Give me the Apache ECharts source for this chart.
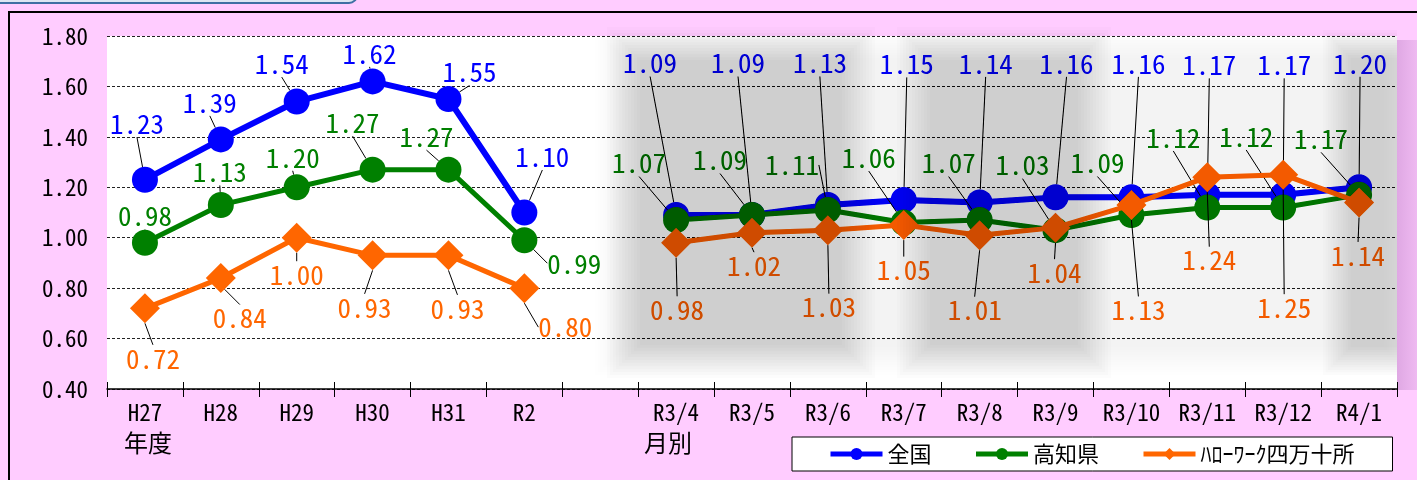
<!DOCTYPE html>
<html>
<head>
<meta charset="utf-8">
<script src="https://cdn.jsdelivr.net/npm/echarts@6/dist/echarts.min.js"></script>
<style>
html, body { margin: 0; padding: 0; background: #FFCCFF; }
#container { width: 1417px; height: 480px; }
</style>
</head>
<body>
<div id="container"></div>
<script>
// 有効求人倍率 データ
var categories = ['H27', 'H28', 'H29', 'H30', 'H31', 'R2', '', 'R3/4', 'R3/5', 'R3/6', 'R3/7', 'R3/8', 'R3/9', 'R3/10', 'R3/11', 'R3/12', 'R4/1'];
var zenkoku = [1.23, 1.39, 1.54, 1.62, 1.55, 1.10, null, 1.09, 1.09, 1.13, 1.15, 1.14, 1.16, 1.16, 1.17, 1.17, 1.20];
var kochi = [0.98, 1.13, 1.20, 1.27, 1.27, 0.99, null, 1.07, 1.09, 1.11, 1.06, 1.07, 1.03, 1.09, 1.12, 1.12, 1.17];
var shimanto = [0.72, 0.84, 1.00, 0.93, 0.93, 0.80, null, 0.98, 1.02, 1.03, 1.05, 1.01, 1.04, 1.13, 1.24, 1.25, 1.14];
var seriesNames = ['全国', '高知県', 'ﾊﾛｰﾜｰｸ四万十所'];
var yMin = 0.4, yMax = 1.8, yStep = 0.2;

// ラベルの位置 (点からのずれ px)
var labelOffsets = [
	[[-8, -56], [-11, -37], [-15, -38], [-3, -28], [21, -27], [18, -56], null,
		[-26, -152], [-14, -152], [-8, -142], [3, -136], [6, -139], [11, -134], [7, -134], [2, -130], [1, -130], [1, -124]],
	[[0, -27], [-1, -33], [-4, -30], [-20, -47], [-22, -33], [50, 23], null,
		[-37, -57], [-32, -55], [-36, -45], [-35, -65], [-31, -57], [-33, -65], [-34, -52], [-34, -70], [-37, -71], [-38, -56]],
	[[8, 50], [19, 40], [0, 37], [-8, 52], [9, 53], [41, 39], null,
		[1, 67], [2, 33], [1, 77], [0, 45], [-5, 75], [-1, 45], [7, 105], [2, 83], [1, 133], [-1, 53]]
];

var FONT = '"Noto Sans Mono CJK JP", "Noto Sans CJK JP", monospace';
var colors = ['#0000FF', '#008000', '#FF6600'];
var PLOT_RIGHT = 1397;

function makeSeries(idx, values, symbol, size, width) {
	return {
		name: seriesNames[idx],
		type: 'line',
		data: values,
		symbol: symbol,
		symbolSize: size,
		connectNulls: false,
		lineStyle: { width: width, color: colors[idx] },
		itemStyle: { color: colors[idx] },
		label: {
			show: true,
			position: 'inside',
			color: colors[idx],
			fontFamily: FONT,
			fontSize: 27,
			formatter: function(p) { return p.value == null ? '' : p.value.toFixed(2); }
		},
		labelLine: {
			show: true,
			lineStyle: { color: '#000', width: 1 }
		},
		labelLayout: function(p) {
			var off = labelOffsets[idx][p.dataIndex] || [0, 0];
			return {
				x: p.rect.x + p.rect.width / 2 + off[0],
				y: p.rect.y + p.rect.height / 2 + off[1],
				align: 'center',
				verticalAlign: 'middle'
			};
		},
		emphasis: { disabled: true },
		animation: false,
		z: 2 + idx
	};
}

// ぼかした灰色の帯 (重ねた矩形で縁をぼかす)
function shade(x, y, w, h, a, feather) {
	var n = 12, list = [];
	for (var i = 0; i < n; i++) {
		var d = feather * (i / n) - feather / 2;
		var x0 = x + d;
		var x1 = Math.min(x + w - d, PLOT_RIGHT);
		list.push({
			type: 'rect',
			silent: true,
			z: 100,
			shape: { x: x0, y: y + d, width: x1 - x0, height: h - 2 * d },
			style: { fill: 'rgba(0,0,0,' + (a / n).toFixed(4) + ')' }
		});
	}
	return list;
}

var graphics = [
	{
		type: 'rect', silent: true, z: 0,
		shape: { x: -10, y: -40, width: 367, height: 43, r: 8 },
		style: { fill: '#DCE6F2', stroke: '#3E6FA3', lineWidth: 2 }
	},
	{
		type: 'rect', silent: true, z: 0,
		shape: { x: 9, y: 12, width: 1430, height: 500 },
		style: { fill: 'none', stroke: '#000', lineWidth: 2 }
	},
	{
		type: 'rect', silent: true, z: 0,
		shape: { x: PLOT_RIGHT, y: 40, width: 22, height: 350 },
		style: {
			fill: new echarts.graphic.LinearGradient(0, 0, 1, 0, [
				{ offset: 0, color: 'rgba(110,40,130,0.22)' },
				{ offset: 1, color: 'rgba(110,40,130,0.10)' }
			])
		}
	},
	{
		type: 'text', left: 124, top: 431, silent: true,
		style: { text: '年度', fill: '#000', fontSize: 24, fontFamily: FONT }
	},
	{
		type: 'text', left: 644, top: 431, silent: true,
		style: { text: '月別', fill: '#000', fontSize: 24, fontFamily: FONT }
	}
];
graphics = graphics
	.concat(shade(610, 45, 787, 315, 0.05, 30))
	.concat(shade(625, 45, 232, 315, 0.16, 36))
	.concat(shade(915, 45, 178, 315, 0.16, 36))
	.concat(shade(1338, 45, 80, 315, 0.14, 30));

var dom = document.getElementById('container');
var myChart = echarts.init(dom);
var option = {
	backgroundColor: '#FFCCFF',
	animation: false,
	color: colors,
	grid: {
		left: 107,
		right: 20,
		top: 36,
		bottom: 91,
		show: true,
		backgroundColor: '#FFFFFF',
		borderWidth: 0
	},
	legend: {
		left: 792,
		top: 437,
		padding: [6, 38, 6, 36],
		itemGap: 42,
		itemWidth: 52,
		itemHeight: 15,
		backgroundColor: '#FFFFFF',
		borderColor: '#000',
		borderWidth: 1,
		borderRadius: 0,
		lineStyle: { width: 5 },
		textStyle: { color: '#000', fontSize: 22, fontFamily: FONT },
		data: seriesNames
	},
	xAxis: [{
		type: 'category',
		data: categories,
		boundaryGap: true,
		axisLine: { lineStyle: { color: '#000', width: 1.5 } },
		axisTick: { show: true, length: 8, lineStyle: { color: '#000' } },
		axisLabel: { color: '#000', fontSize: 23, fontFamily: FONT, margin: 12, interval: 0 },
		splitLine: { show: false }
	}, {
		type: 'category',
		data: categories,
		position: 'bottom',
		boundaryGap: true,
		axisLine: { show: false },
		axisTick: { show: true, inside: true, length: 7, lineStyle: { color: '#000' } },
		axisLabel: { show: false },
		splitLine: { show: false }
	}],
	yAxis: {
		type: 'value',
		min: yMin,
		max: yMax,
		interval: yStep,
		axisLine: { show: false },
		axisTick: { show: false },
		axisLabel: {
			color: '#000', fontSize: 23, fontFamily: FONT, margin: 19,
			formatter: function(v) { return v.toFixed(2); }
		},
		splitLine: { lineStyle: { color: '#222', width: 1, type: [3, 2] } }
	},
	graphic: graphics,
	series: [
		makeSeries(0, zenkoku, 'circle', 26, 6),
		makeSeries(1, kochi, 'circle', 26, 5),
		makeSeries(2, shimanto, 'diamond', 30, 5)
	]
};

if (option && typeof option === "object") {
	myChart.setOption(option, true);
}
</script>
</body>
</html>
